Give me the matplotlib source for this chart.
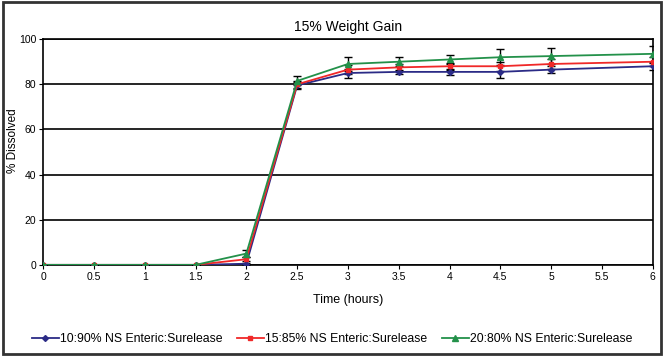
import numpy as np
import matplotlib
matplotlib.use('Agg')
import matplotlib.pyplot as plt
from matplotlib.patches import Rectangle
from matplotlib.lines import Line2D

plt.rcParams['font.family'] = ['Liberation Sans', 'DejaVu Sans']

# Data
time = [0, 0.5, 1, 1.5, 2, 2.5, 3, 3.5, 4, 4.5, 5, 6]
blue = [0, 0, 0, 0, 0.5, 79.5, 85, 85.5, 85.5, 85.5, 86.5, 88]
red = [0, 0, 0, 0, 2.5, 80, 86.5, 87.5, 88, 88, 89, 90]
green = [0, 0, 0, 0, 5, 81.5, 89, 90, 91, 92, 92.5, 93.5]
blue_err = [0, 0, 0, 0, 0.5, 1.5, 2, 1, 1.5, 2.5, 1.5, 1.5]
red_err = [0, 0, 0, 0, 1, 1.5, 2, 1.5, 1.5, 2, 2, 2]
green_err = [0, 0, 0, 0, 1.5, 2, 3, 2, 2, 3.5, 3.5, 3.5]
labels = ['10:90% NS Enteric:Surelease', '15:85% NS Enteric:Surelease',
          '20:80% NS Enteric:Surelease']

fig = plt.figure(figsize=(6.64, 3.56), dpi=100)
ax = fig.add_axes([0.065, 0.256, 0.918, 0.634])

series = [(blue, blue_err, '#2b2b86', 'D', 3),
          (red, red_err, '#f02828', 's', 3.5),
          (green, green_err, '#23914a', '^', 4.5)]
handles = []
for (y, err, col, mk, ms), lab in zip(series, labels):
    ax.errorbar(time, y, yerr=err, color=col, marker=mk, markersize=ms,
                linewidth=1.3, ecolor='black', elinewidth=1, capsize=3,
                capthick=1, zorder=3)
    handles.append(Line2D([], [], color=col, marker=mk, markersize=ms,
                          linewidth=1.3, label=lab))

ax.set_xlim(0, 6)
ax.set_ylim(0, 100)
ax.set_xticks(np.arange(0, 6.01, 0.5))
ax.set_xticklabels(['0', '0.5', '1', '1.5', '2', '2.5', '3', '3.5', '4',
                    '4.5', '5', '5.5', '6'])
ax.set_yticks([0, 20, 40, 60, 80, 100])
ax.yaxis.grid(True, color='black', linewidth=1.2)
ax.set_axisbelow(True)
for s in ax.spines.values():
    s.set_linewidth(1.2)
ax.tick_params(labelsize=7.5, length=3, direction='out', pad=2)
ax.set_title('15% Weight Gain', fontsize=10, pad=6)
ax.set_xlabel('Time (hours)', fontsize=9, labelpad=9)
ax.set_ylabel('% Dissolved', fontsize=8.5)
ax.yaxis.set_label_coords(-0.039, 0.55)

fig.legend(handles=handles, loc='lower center', bbox_to_anchor=(0.5, 0.0),
           ncol=3, frameon=False, fontsize=8.8, handlelength=2.2,
           handletextpad=0.1, columnspacing=1.2)

fig.patches.append(Rectangle((0.004, 0.006), 0.992, 0.988, fill=False,
                             edgecolor='#333333', linewidth=2,
                             transform=fig.transFigure))

plt.savefig('out.png', dpi=100)
